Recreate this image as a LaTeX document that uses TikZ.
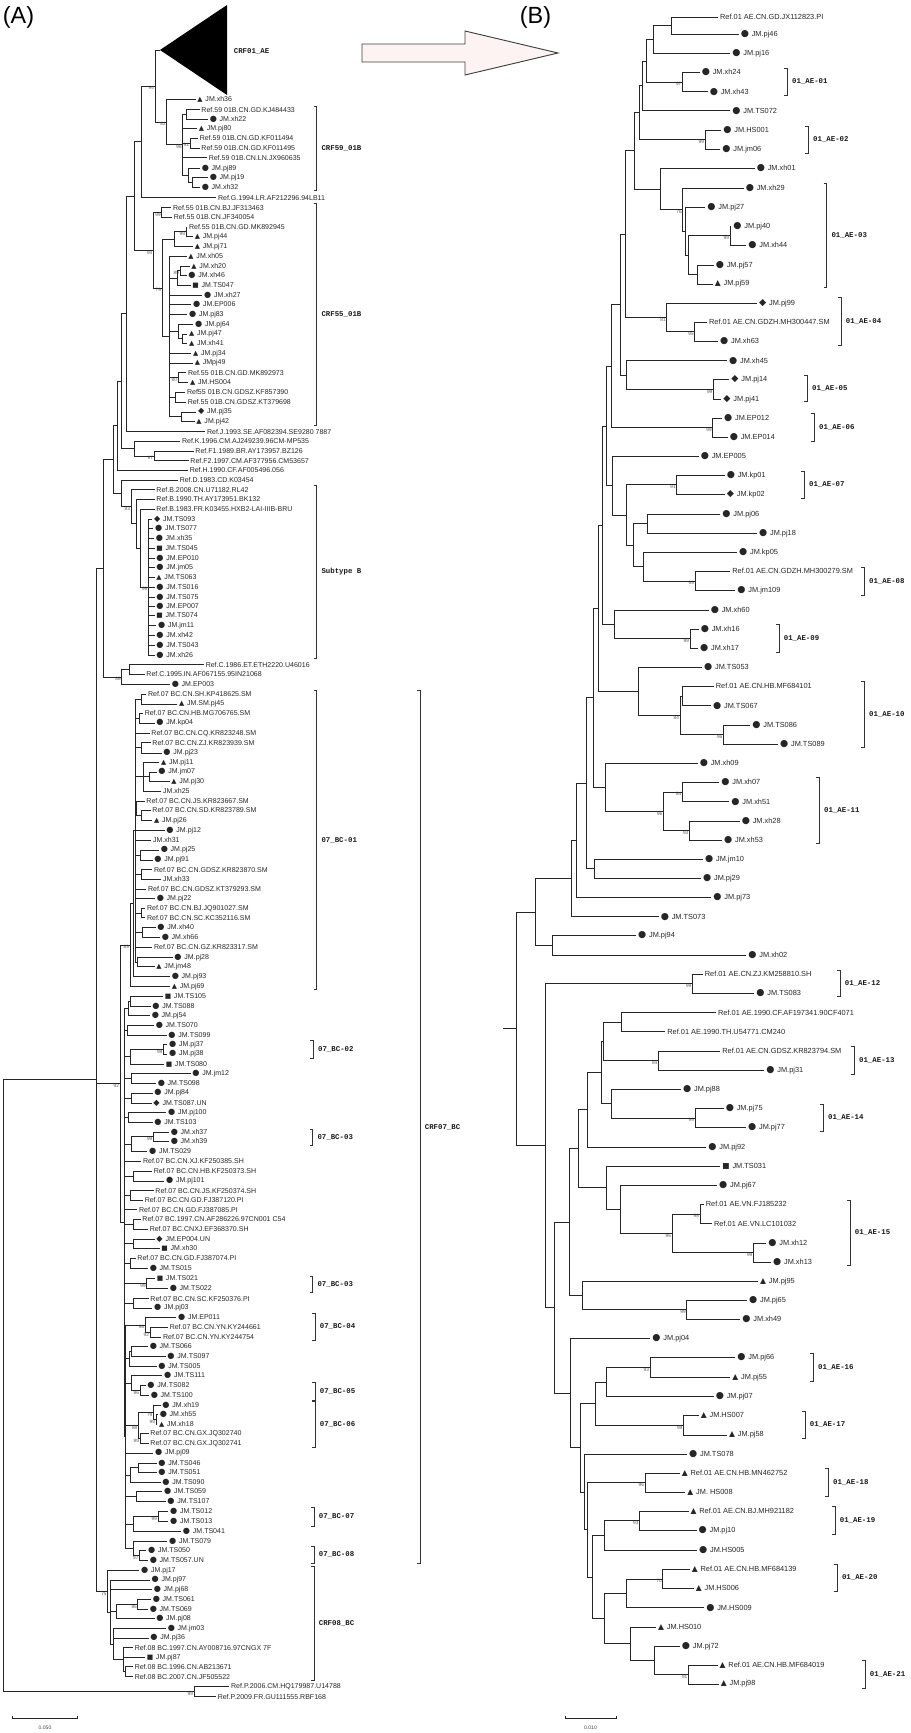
\documentclass[tikz,border=0pt]{standalone}
\usepackage{fontspec}
\setmainfont{Liberation Sans}
\newfontfamily\mkfont{DejaVu Sans}
\newfontfamily\cladefont{Liberation Mono}
\usetikzlibrary{calc}
\definecolor{arrowfill}{HTML}{FDF3F3}

% clade: [bootstrap]{name}{x}{children}
\newcommand\clade[4][]{%
  \foreach \ch [count=\chn] in {#4}{\ifnum\chn=1 \xdef\cfirst{\ch}\fi\xdef\clast{\ch}}%
  \coordinate (#2) at (perpendicular cs: horizontal line through={($(\cfirst)!0.5!(\clast)$)}, vertical line through={(#3,0)});%
  \foreach \ch in {#4}{\draw[br] (#2) |- (\ch);}%
  \if\relax\detokenize{#1}\relax\else\node[bs] (#2-bs) at (#2) {#1};\fi
}

\tikzset{
  br/.style={line width=0.65pt, draw=black!85},
  lfA/.style={anchor=west, inner xsep=1.3pt, inner ysep=0pt, text=black!85, font=\fontsize{6}{6}\selectfont},
  lfB/.style={anchor=west, inner xsep=1.6pt, inner ysep=0pt, text=black!85, font=\fontsize{6.3}{6.3}\selectfont},
  ci/.style={execute at begin node={{\mkfont\fontsize{\mkc}{\mkc}\selectfont ●}\hspace{2.4pt}}},
  di/.style={execute at begin node={{\mkfont\fontsize{\mkc}{\mkc}\selectfont ◆}\hspace{2.4pt}}},
  tr/.style={execute at begin node={{\mkfont\fontsize{\mkt}{\mkt}\selectfont ▲}\hspace{2.4pt}}},
  sq/.style={execute at begin node={{\mkfont\fontsize{\mkt}{\mkt}\selectfont ■}\hspace{2.4pt}}},
  no/.style={},
  bs/.style={anchor=north east, inner sep=0.3pt, xshift=-0.4pt, text=black!65, font=\fontsize{4}{4}\selectfont},
  clab/.style={anchor=west, inner sep=0.5pt, text=black!90, font=\cladefont\bfseries\fontsize{6.3}{6.3}\selectfont},
  brk/.style={line width=0.65pt, draw=black!80},
}

\begin{document}
\begin{tikzpicture}[x=0.3mm, y=-0.3mm]
  \useasboundingbox (0,0) rectangle (911,1733);

  % panel letters and arrow
  \node[font=\fontsize{20}{20}\selectfont] (lblA) at (18.5,17) {(A)};
  \node[font=\fontsize{20}{20}\selectfont] (lblB) at (535.5,17) {(B)};
  \draw[line width=0.8pt, draw=black!75, fill=arrowfill] (362,44) -- (465,44) -- (465,31) -- (558,53) -- (465,75) -- (465,62) -- (362,62) -- cycle;

  % (A) tips
  \def\mkc{7}\def\mkt{5.8}
  \foreach \nm/\x/\y/\mt/\tx in {
    A-xh36/195.7/99.3/tr/JM.xh36, A-KJ484433/199.7/109.7/no/Ref.59 01B.CN.GD.KJ484433,
    A-xh22/208/119/ci/JM.xh22, A-pj80/197/128.7/tr/JM.pj80,
    A-KF011494/198/138/no/Ref.59 01B.CN.GD.KF011494, A-KF011495/199.7/148/no/Ref.59 01B.CN.GD.KF011495,
    A-JX960635/207/157.7/no/Ref.59 01B.CN.LN.JX960635, A-pj89/200/168.3/ci/JM.pj89,
    A-pj19/208/177.3/ci/JM.pj19, A-xh32/200/187.7/ci/JM.xh32,
    A-G/216.3/197.7/no/Ref.G.1994.LR.AF212296.94LB11,
    A-JF313463/171.3/207.7/no/Ref.55 01B.CN.BJ.JF313463, A-JF340054/172/217.3/no/Ref.55 01B.CN.JF340054,
    A-MK892945/187.3/227/no/Ref.55 01B.CN.GD.MK892945, A-pj44/193/236.7/tr/JM.pj44,
    A-pj71/193/246.7/tr/JM.pj71, A-xh05/186.7/256.3/tr/JM.xh05, A-xh20/189.7/266/tr/JM.xh20,
    A-xh46/186.7/275.7/ci/JM.xh46, A-TS047/190.7/285.3/sq/JM.TS047, A-xh27/202.3/295/ci/JM.xh27,
    A-EP006/191.3/304.7/ci/JM.EP006, A-pj83/187.3/314.3/ci/JM.pj83, A-pj64/193.3/324.3/ci/JM.pj64,
    A-pj47/187.3/334/tr/JM.pj47, A-xh41/187.3/343.7/tr/JM.xh41, A-pj34/191.3/353.3/tr/JM.pj34,
    A-pj49/193/363/tr/JMpj49, A-MK892973/186.3/372.7/no/Ref.55 01B.CN.GD.MK892973,
    A-HS004/188.3/382.3/tr/JM.HS004, A-KF857390/185.3/392.3/no/Ref55 01B.CN.GDSZ.KF857390,
    A-KT379698/186/402/no/Ref.55 01B.CN.GDSZ.KT379698, A-pj35/196.3/412/di/JM.pj35,
    A-pj42/194.7/421.7/tr/JM.pj42, A-J/205.3/431.7/no/Ref.J.1993.SE.AF082394.SE9280 7887,
    A-K/180.3/441.3/no/Ref.K.1996.CM.AJ249239.96CM-MP535, A-F1/193.7/451.3/no/Ref.F1.1989.BR.AY173957.BZ126,
    A-F2/188.7/460.7/no/Ref.F2.1997.CM.AF377956.CM53657, A-H/188/470.3/no/Ref.H.1990.CF.AF005496.056,
    A-D/178/480/no/Ref.D.1983.CD.K03454, A-B1/154.7/489.7/no/Ref.B.2008.CN.U71182.RL42,
    A-B2/154.7/499.3/no/Ref.B.1990.TH.AY173951.BK132, A-B3/154.7/509/no/Ref.B.1983.FR.K03455.HXB2-LAI-IIIB-BRU,
    A-TS093/152.3/519/di/JM.TS093, A-TS077/153.3/528.7/ci/JM.TS077, A-xh35/154/538.3/ci/JM.xh35,
    A-TS045/154.7/548/sq/JM.TS045, A-EP010/154.7/558/ci/JM.EP010, A-jm05/154.7/567.7/ci/JM.jm05,
    A-TS063/154.7/577.7/tr/JM.TS063, A-TS016/154.7/587.3/ci/JM.TS016, A-TS075/154.7/597/ci/JM.TS075,
    A-EP007/154.7/606.7/ci/JM.EP007, A-TS074/154.7/615.7/sq/JM.TS074, A-jm11/156.3/625.3/ci/JM.jm11,
    A-xh42/154.7/635.3/ci/JM.xh42, A-TS043/154.7/645/ci/JM.TS043, A-xh26/154.7/655/ci/JM.xh26,
    A-C1/204/664.7/no/Ref.C.1986.ET.ETH2220.U46016, A-C2/144.7/674.3/no/Ref.C.1995.IN.AF067155.95IN21068,
    A-EP003/170/684.3/ci/JM.EP003,
    A-KP418625/146.3/694.3/no/Ref.07 BC.CN.SH.KP418625.SM, A-pj45/177.3/704/tr/JM.SM.pj45,
    A-MG706765/143/713.3/no/Ref.07 BC.CN.HB.MG706765.SM, A-kp04/154.7/723/ci/JM.kp04,
    A-KR823248/149.7/733.3/no/Ref.07 BC.CN.CQ.KR823248.SM, A-KR823939/150.7/742.7/no/Ref.07 BC.CN.ZJ.KR823939.SM,
    A-pj23/161.7/753/ci/JM.pj23, A-pj11/159.3/762.3/tr/JM.pj11, A-jm07/156.7/772/ci/JM.jm07,
    A-pj30/169.7/781.7/tr/JM.pj30, A-xh25/161.3/791.3/no/JM.xh25,
    A-KR823667/144.7/801/no/Ref.07 BC.CN.JS.KR823667.SM, A-KR823789/150.7/810.3/no/Ref.07 BC.CN.SD.KR823789.SM,
    A-pj26/152.3/820.7/tr/JM.pj26, A-pj12/164.7/830.3/ci/JM.pj12, A-xh31/151.3/840/no/JM.xh31,
    A-pj25/159/850/ci/JM.pj25, A-pj91/152.7/860/ci/JM.pj91,
    A-KR823870/152.3/869.7/no/Ref.07 BC.CN.GDSZ.KR823870.SM, A-xh33/161.3/879/no/JM.xh33,
    A-KT379293/146.3/889/no/Ref.07 BC.CN.GDSZ.KT379293.SM, A-pj22/155/898.7/ci/JM.pj22,
    A-JQ901027/145.3/908.3/no/Ref.07 BC.CN.BJ.JQ901027.SM, A-KC352116/145.3/917.7/no/Ref.07 BC.CN.SC.KC352116.SM,
    A-xh40/155.7/927.7/ci/JM.xh40, A-xh66/160/937.3/ci/JM.xh66,
    A-KR823317/152.3/947/no/Ref.07 BC.CN.GZ.KR823317.SM, A-pj28/172.7/957.3/ci/JM.pj28,
    A-jm48/154.7/966.7/tr/JM.jm48, A-pj93/170/976.7/ci/JM.pj93, A-pj69/170/986.3/tr/JM.pj69,
    A-TS105/163/996/sq/JM.TS105, A-TS088/150.7/1006/ci/JM.TS088, A-pj54/150/1015.3/ci/JM.pj54,
    A-TS070/154/1025.3/ci/JM.TS070, A-TS099/166.7/1035/ci/JM.TS099, A-pj37/167.3/1044.7/ci/JM.pj37,
    A-pj38/167.3/1054/ci/JM.pj38, A-TS080/164/1064/sq/JM.TS080, A-jm12/190.7/1073.7/ci/JM.jm12,
    A-TS098/156/1083.7/ci/JM.TS098, A-pj84/152.7/1093/ci/JM.pj84, A-TS087/151.7/1103/di/JM.TS087.UN,
    A-pj100/166.3/1112.7/ci/JM.pj100, A-TS103/152.7/1122/ci/JM.TS103, A-xh37/169/1132/ci/JM.xh37,
    A-xh39/169/1141.7/ci/JM.xh39, A-TS029/147.3/1151.7/ci/JM.TS029,
    A-KF250385/141.3/1161.3/no/Ref.07 BC.CN.XJ.KF250385.SH, A-KF250373/152/1171/no/Ref.07 BC.CN.HB.KF250373.SH,
    A-pj101/164.3/1181/ci/JM.pj101, A-KF250374/153.7/1190.7/no/Ref.07 BC.CN.JS.KF250374.SH,
    A-FJ387120/143/1200/no/Ref.07 BC.CN.GD.FJ387120.PI, A-FJ387085/137.3/1209.7/no/Ref.07 BC.CN.GD.FJ387085.PI,
    A-AF286226/140.7/1219.3/no/Ref.07 BC.1997.CN.AF286226.97CN001 C54, A-EF368370/148/1229/no/Ref.07 BC.CNXJ.EF368370.SH,
    A-EP004/154.7/1239/di/JM.EP004.UN, A-xh30/159.7/1248.7/sq/JM.xh30,
    A-FJ387074/135.7/1258.3/no/Ref.07 BC.CN.GD.FJ387074.PI, A-TS015/148/1268/ci/JM.TS015,
    A-TS021/155/1278/sq/JM.TS021, A-TS022/168/1288.3/ci/JM.TS022,
    A-KF250376/148.7/1298.7/no/Ref.07 BC.CN.SC.KF250376.PI, A-pj03/152.3/1308/ci/JM.pj03,
    A-EP011/176.3/1317.7/ci/JM.EP011, A-KY244661/168/1327.3/no/Ref.07 BC.CN.YN.KY244661,
    A-KY244754/161.3/1337/no/Ref.07 BC.CN.YN.KY244754, A-TS066/148/1346.7/ci/JM.TS066,
    A-TS097/165.7/1356.3/ci/JM.TS097, A-TS005/156.7/1366/ci/JM.TS005, A-TS111/162.3/1375.7/ci/JM.TS111,
    A-TS082/145.7/1385.3/ci/JM.TS082, A-TS100/149/1395/ci/JM.TS100, A-xh19/160.7/1405/ci/JM.xh19,
    A-xh55/158/1414.7/ci/JM.xh55, A-xh18/157.3/1424.3/tr/JM.xh18,
    A-JQ302740/148.7/1433.7/no/Ref.07 BC.CN.GX.JQ302740, A-JQ302741/148.7/1443.7/no/Ref.07 BC.CN.GX.JQ302741,
    A-pj09/153.3/1453/ci/JM.pj09, A-TS046/156.7/1463/ci/JM.TS046, A-TS051/156.7/1472.7/ci/JM.TS051,
    A-TS090/160.7/1482/ci/JM.TS090, A-TS059/162.3/1491.7/ci/JM.TS059, A-TS107/165.7/1501.3/ci/JM.TS107,
    A-TS012/168.4/1511.5/ci/JM.TS012, A-TS013/168.4/1521.7/ci/JM.TS013, A-TS041/181.2/1531.5/ci/JM.TS041,
    A-TS079/167.3/1541/ci/JM.TS079, A-TS050/146.3/1550.7/ci/JM.TS050, A-TS057/148/1560.5/ci/JM.TS057.UN,
    A-pj17/139.3/1570.5/ci/JM.pj17, A-pj97/149.8/1580/ci/JM.pj97, A-pj68/152/1589.5/ci/JM.pj68,
    A-TS061/151/1599.3/ci/JM.TS061, A-TS069/148/1609/ci/JM.TS069, A-pj08/154.5/1618.5/ci/JM.pj08,
    A-jm03/166/1628.3/ci/JM.jm03, A-pj36/148.7/1638/ci/JM.pj36,
    A-AY008716/133/1647.7/no/Ref.08 BC.1997.CN.AY008716.97CNGX 7F, A-pj87/145/1657.5/sq/JM.pj87,
    A-AB213671/133/1666.8/no/Ref.08 BC.1996.CN.AB213671, A-JF505522/133/1676.5/no/Ref.08 BC.2007.CN.JF505522,
    A-P1/229.4/1686.7/no/Ref.P.2006.CM.HQ179987.U14788, A-P2/216/1696.5/no/Ref.P.2009.FR.GU111555.RBF168}
    {\node[lfA,\mt] (\nm) at (\x,\y) {\tx};}

  % (B) tips
  \def\mkc{8}\def\mkt{6.6}
  \foreach \nm/\x/\y/\mt/\tx in {
    B-JX112823/718/17/no/Ref.01 AE.CN.GD.JX112823.PI, B-pj46/738.7/34.7/ci/JM.pj46,
    B-pj16/730.3/53.7/ci/JM.pj16, B-xh24/699.7/72.3/ci/JM.xh24, B-xh43/707.7/91.7/ci/JM.xh43,
    B-TS072/730.3/110.7/ci/JM.TS072, B-HS001/721.3/130/ci/JM.HS001, B-jm06/720.3/149.3/ci/JM.jm06,
    B-xh01/754.7/168.3/ci/JM.xh01, B-xh29/743.7/188/ci/JM.xh29, B-pj27/705.3/207.3/ci/JM.pj27,
    B-pj40/731.3/226.3/ci/JM.pj40, B-xh44/746.3/245.3/ci/JM.xh44, B-pj57/713.7/265/ci/JM.pj57,
    B-pj59/712.7/284/tr/JM.pj59, B-pj99/757/303/di/JM.pj99,
    B-MH300447/707/322/no/Ref.01 AE.CN.GDZH.MH300447.SM, B-xh63/718/341/ci/JM.xh63,
    B-xh45/727/360.7/ci/JM.xh45, B-pj14/729.3/379.7/di/JM.pj14, B-pj41/721.3/399/di/JM.pj41,
    B-EP012/722/418.3/ci/JM.EP012, B-EP014/727.7/437.3/ci/JM.EP014, B-EP005/698.7/456.3/ci/JM.EP005,
    B-kp01/724.7/475.3/ci/JM.kp01, B-kp02/724.7/494.3/di/JM.kp02, B-pj06/720.3/514/ci/JM.pj06,
    B-pj18/757/533/ci/JM.pj18, B-kp05/737/552.3/ci/JM.kp05,
    B-MH300279/730.3/571.3/no/Ref.01 AE.CN.GDZH.MH300279.SM, B-jm109/735.3/590.7/ci/JM.jm109,
    B-xh60/708.7/610/ci/JM.xh60, B-xh16/698.7/629/ci/JM.xh16, B-xh17/698/648/ci/JM.xh17,
    B-TS053/702/667.3/ci/JM.TS053, B-MF684101/713.7/686.3/no/Ref.01 AE.CN.HB.MF684101,
    B-TS067/711/705.7/ci/JM.TS067, B-TS086/750.3/725/ci/JM.TS086, B-TS089/778/744/ci/JM.TS089,
    B-xh09/697.7/763.3/ci/JM.xh09, B-xh07/719.3/782.5/ci/JM.xh07, B-xh51/729.3/801.7/ci/JM.xh51,
    B-xh28/739.7/821/ci/JM.xh28, B-xh53/722/840/ci/JM.xh53, B-jm10/703/859.3/ci/JM.jm10,
    B-pj29/701/878.3/ci/JM.pj29, B-pj73/711.3/897.3/ci/JM.pj73, B-TS073/658.7/916.7/ci/JM.TS073,
    B-pj94/636/935.7/ci/JM.pj94, B-xh02/746.3/955/ci/JM.xh02,
    B-KM258810/702.7/974.3/no/Ref.01 AE.CN.ZJ.KM258810.SH, B-TS083/754.3/993.3/ci/JM.TS083,
    B-AF197341/716/1012.7/no/Ref.01 AE.1990.CF.AF197341.90CF4071, B-U54771/665.3/1031.7/no/Ref.01 AE.1990.TH.U54771.CM240,
    B-KR823794/720.3/1051/no/Ref.01 AE.CN.GDSZ.KR823794.SM, B-pj31/764.3/1070/ci/JM.pj31,
    B-pj88/681/1089.3/ci/JM.pj88, B-pj75/723.7/1108.3/ci/JM.pj75, B-pj77/746/1127.7/ci/JM.pj77,
    B-pj92/706.3/1147/ci/JM.pj92, B-TS031/720.3/1166/sq/JM.TS031, B-pj67/717/1185.3/ci/JM.pj67,
    B-FJ185232/703.7/1204.3/no/Ref.01 AE.VN.FJ185232, B-LC101032/712/1223.7/no/Ref.01 AE.VN.LC101032,
    B-xh12/766.3/1243/ci/JM.xh12, B-xh13/771/1262/ci/JM.xh13, B-pj95/758/1281.3/tr/JM.pj95,
    B-pj65/747/1300.3/ci/JM.pj65, B-xh49/740.3/1319.3/ci/JM.xh49, B-pj04/650.3/1338.3/ci/JM.pj04,
    B-pj66/735.3/1357.7/ci/JM.pj66, B-pj55/730.3/1377.3/tr/JM.pj55, B-pj07/713.7/1396.3/ci/JM.pj07,
    B-HS007/698.7/1415.7/tr/JM.HS007, B-pj58/727/1435/tr/JM.pj58, B-TS078/687/1454/ci/JM.TS078,
    B-MN462752/679.7/1473/tr/Ref.01 AE.CN.HB.MN462752, B-HS008/685.3/1492/tr/JM. HS008,
    B-MH921182/688.5/1511.3/tr/Ref.01 AE.CN.BJ.MH921182, B-pj10/696.5/1530.3/ci/JM.pj10,
    B-HS005/697/1550/ci/JM.HS005, B-MF684139/689.7/1569.3/tr/Ref.01 AE.CN.HB.MF684139,
    B-HS006/693.7/1588.7/tr/JM.HS006, B-HS009/704.2/1607.7/ci/JM.HS009, B-HS010/656/1627/tr/JM.HS010,
    B-pj72/679.8/1646/ci/JM.pj72, B-MF684019/717.6/1665.3/tr/Ref.01 AE.CN.HB.MF684019,
    B-pj98/718.7/1684/tr/JM.pj98}
    {\node[lfB,\mt] (\nm) at (\x,\y) {\tx};}

  % (A) CRF01_AE collapsed, CRF59, CRF55
  \coordinate (A-ae) at (160,50);
  \fill[black] (A-ae) -- (227,5) -- (227,95) -- cycle;
  \node[clab] (lab-ae) at (233,51) {CRF01\_AE};
  \clade{a59a}{186.7}{A-KJ484433,A-xh22}
  \clade[91]{a59b}{190}{A-KF011494,A-KF011495}
  \clade{a59d}{192}{A-pj19,A-xh32}
  \clade{a59c}{188}{A-pj89,a59d}
  \clade[96]{a59core}{182.7}{a59a,A-pj80,a59b,A-JX960635,a59c}
  \clade[82]{a59}{166.7}{A-xh36,a59core}
  \clade[94]{q1}{155}{A-ae,a59}
  \clade{q2}{141}{q1,A-G}
  \clade[99]{a55bj}{161.7}{A-JF313463,A-JF340054}
  \clade[99]{a55gd}{186}{A-MK892945,A-pj44}
  \clade{a55c}{174}{a55gd,A-pj71}
  \clade[89]{a55d}{180}{A-xh20,A-xh46}
  \clade{a55e}{177}{a55d,A-TS047}
  \clade{a55f2}{182}{A-pj47,A-xh41}
  \clade{a55f}{178}{A-pj64,a55f2}
  \clade[80]{a55g}{178}{A-MK892973,A-HS004}
  \clade{a55i}{175}{A-KF857390,A-KT379698}
  \clade{a55h}{181}{A-pj35,A-pj42}
  \clade{a55core}{169}{A-xh05,a55e,A-xh27,A-EP006,A-pj83,a55f,A-pj34,A-pj49,a55g,a55i,a55h}
  \clade[79]{a55x}{162}{a55c,a55core}
  \clade[94]{a55}{153.3}{a55bj,a55x}
  \clade{q3}{134.7}{q2,a55}
  \clade{q4}{126}{q3,A-J}
  \clade[97]{aF}{154}{A-F1,A-F2}
  \clade{aKF}{134.3}{A-K,aF}
  \clade{q5}{121.7}{q4,aKF}
  \clade{q6}{117}{q5,A-H}
  % subtype B, D, C
  \clade[99]{aBjm}{148.3}{A-TS093,A-TS077,A-xh35,A-TS045,A-EP010,A-jm05,A-TS063,A-TS016,A-TS075,A-EP007,A-TS074,A-jm11,A-xh42,A-TS043,A-xh26}
  \clade{aB3}{140}{A-B3,aBjm}
  \clade{aB2}{136}{A-B2,aB3}
  \clade[83]{aB}{131}{A-B1,aB2}
  \clade{aDB}{121.7}{A-D,aB}
  \clade{q7}{113.3}{q6,aDB}
  \clade{aCp}{129.3}{A-C1,A-C2}
  \clade[86]{aC}{121.7}{aCp,A-EP003}
  \clade{q8}{103.3}{q7,aC}
  % CRF07_BC
  \clade{b1a}{141.7}{A-KP418625,A-pj45}
  \clade{b1b}{139.3}{A-MG706765,A-kp04}
  \clade{b1c}{141.7}{A-KR823939,A-pj23}
  \clade{b1d}{149.3}{A-jm07,A-pj30}
  \clade{b1e}{143.3}{A-pj11,b1d,A-xh25}
  \clade{b1f}{141.7}{A-KR823789,A-pj26}
  \clade{b1g}{136.7}{A-KR823667,b1f}
  \clade{b1h}{140}{A-pj25,A-pj91}
  \clade{b1i}{141.7}{A-KR823870,A-xh33}
  \clade{b1j}{141.7}{A-JQ901027,A-KC352116}
  \clade{b1k}{142.7}{A-xh40,A-xh66}
  \clade{b1l}{137.3}{A-pj28,A-jm48}
  \clade{b1core}{135.7}{b1a,b1b,A-KR823248,b1c,b1e,b1g,A-pj12,A-xh31,b1h,b1i,A-KT379293,A-pj22,b1j,b1k,A-KR823317,b1l}
  \clade{b1x}{133.3}{b1core,A-pj93}
  \clade[89]{b1}{130}{b1x,A-pj69}
  \clade{c1}{130}{A-TS105,A-TS088}
  \clade{c2}{128.3}{c1,A-pj54}
  \clade{c3}{127.3}{A-TS070,A-TS099}
  \clade[99]{c4}{163.3}{A-pj37,A-pj38}
  \clade{c5}{130}{c4,A-TS080}
  \clade{c6}{131.7}{A-jm12,A-TS098}
  \clade{c7}{131.7}{A-pj84,A-TS087}
  \clade{c8}{128.3}{A-pj100,A-TS103}
  \clade[99]{c9}{153.3}{A-xh37,A-xh39}
  \clade{c10}{131.7}{c9,A-TS029}
  \clade{c11}{133.3}{A-KF250373,A-pj101}
  \clade{c12}{130.7}{A-KF250374,A-FJ387120}
  \clade{c13}{133.3}{A-AF286226,A-EF368370}
  \clade{c14}{133.3}{A-EP004,A-xh30}
  \clade{c15}{130.7}{A-FJ387074,A-TS015}
  \clade[99]{c16}{146.7}{A-TS021,A-TS022}
  \clade{c17}{133.3}{A-KF250376,A-pj03}
  \clade[92]{c18}{150}{A-KY244661,A-KY244754}
  \clade[96]{c19}{145}{A-EP011,c18}
  \clade{c20}{131.7}{A-TS066,A-TS097}
  \clade{c21}{129.3}{c20,A-TS005}
  \clade[96]{c22}{140}{A-TS082,A-TS100}
  \clade{c23}{131.7}{A-TS111,c22}
  \clade[99]{c24b}{156}{A-xh55,A-xh18}
  \clade[79]{c24}{153.3}{A-xh19,c24b}
  \clade[99]{c25}{140}{A-JQ302740,A-JQ302741}
  \clade[88]{c26}{138.3}{c24,c25}
  \clade{c27}{138.3}{A-TS046,A-TS051}
  \clade{c28}{130}{c27,A-TS090}
  \clade{c29}{136}{A-TS059,A-TS107}
  \clade[99]{c30}{158}{A-TS012,A-TS013}
  \clade{c31}{133.7}{c30,A-TS041}
  \clade[97]{c32}{139.5}{A-TS050,A-TS057}
  \clade{c33}{133.7}{A-TS079,c32}
  \clade{c7deep}{125.7}{c19,c21,c23,c26,A-pj09,c28,c29,c31,c33}
  \clade{c7core}{124}{c2,c3,c5,c6,c7,c8,c10,A-KF250385,c11,c12,A-FJ387085,c13,c14,c15,c16,c17,c7deep}
  \clade[92]{c07}{120}{b1,c7core}
  % CRF08_BC
  \clade[95]{d1}{137.8}{A-TS061,A-TS069}
  \clade{d2}{116.3}{d1,A-pj08}
  \clade{d3}{125}{A-AB213671,A-JF505522}
  \clade{d4}{123.3}{A-AY008716,A-pj87,d3}
  \clade{d5}{113.4}{A-jm03,A-pj36,d4}
  \clade{d8x}{110.5}{A-pj97,A-pj68,d2,d5}
  \clade[75]{d08}{107.6}{A-pj17,d8x}
  % backbone and outgroup
  \clade{q10}{96.7}{q8,c07,d08}
  \clade[99]{aP}{194}{A-P1,A-P2}
  \clade{rootA}{3}{q10,aP}

  % (B) CRF01_AE tree
  \clade{rn1}{671.7}{B-JX112823,B-pj46}
  \clade{rn2}{653.3}{rn1,B-pj16}
  \clade[97]{rnxh}{682.3}{B-xh24,B-xh43}
  \clade{rn3}{646.7}{rn2,rnxh}
  \clade{rn4}{642.3}{rn3,B-TS072}
  \clade[99]{rnhs}{705}{B-HS001,B-jm06}
  \clade{rn5}{639.3}{rn4,rnhs}
  \clade[99]{rn11}{730}{B-pj40,B-xh44}
  \clade{rn12}{697}{B-pj57,B-pj59}
  \clade{rn10}{688.3}{rn11,rn12}
  \clade{rn9}{685}{B-pj27,rn10}
  \clade[76]{rn8}{682.7}{B-xh29,rn9}
  \clade{rn7}{660}{B-xh01,rn8}
  \clade{rn6}{634.3}{rn5,rn7}
  \clade[95]{rn15}{694.7}{B-MH300447,B-xh63}
  \clade[81]{rn14}{666.7}{B-pj99,rn15}
  \clade{rn13}{625.3}{rn6,rn14}
  \clade[99]{rn18}{713.3}{B-pj14,B-pj41}
  \clade{rn17}{626.7}{B-xh45,rn18}
  \clade{rn16}{620.3}{rn13,rn17}
  \clade[99]{rn20}{712.7}{B-EP012,B-EP014}
  \clade{rn21}{611.7}{rn16,rn20}
  \clade[91]{rkp}{676.7}{B-kp01,B-kp02}
  \clade{rp6}{647}{B-pj06,B-pj18}
  \clade[99]{rmh3}{695}{B-MH300279,B-jm109}
  \clade{rk5}{643.3}{B-kp05,rmh3}
  \clade{rk6}{633.3}{rp6,rk5}
  \clade{rn25}{626.7}{rkp,rk6}
  \clade{rn24}{612.7}{B-EP005,rn25}
  \clade{rn22}{606}{rn21,rn24}
  \clade[99]{rx16}{690}{B-xh16,B-xh17}
  \clade{rn26}{614.3}{B-xh60,rx16}
  \clade{rn23}{602.7}{rn22,rn26}
  \clade{rmf}{682.7}{B-MF684101,B-TS067}
  \clade[96]{rts86}{723.3}{B-TS086,B-TS089}
  \clade[84]{rmf2b}{680}{rmf,rts86}
  \clade{rn27}{638.3}{B-TS053,rmf2b}
  \clade{rn28}{598.3}{rn23,rn27}
  \clade[84]{rx7}{682.3}{B-xh07,B-xh51}
  \clade[93]{rx28}{689.3}{B-xh28,B-xh53}
  \clade[96]{rx11}{663.3}{rx7,rx28}
  \clade{rn30}{605}{B-xh09,rx11}
  \clade{rn29}{593.3}{rn28,rn30}
  \clade{rjm}{594}{B-jm10,B-pj29}
  \clade{rn31}{586}{rn29,rjm}
  \clade{ru3}{576.7}{rn31,B-pj73}
  \clade{ru1}{571.7}{ru3,B-TS073}
  \clade{ru2}{552.7}{B-pj94,B-xh02}
  \clade{rup}{535}{ru1,ru2}
  \clade[99]{rkm}{692.3}{B-KM258810,B-TS083}
  \clade{raf}{621.7}{B-AF197341,B-U54771}
  \clade[84]{rkr}{658.3}{B-KR823794,B-pj31}
  \clade{rb1}{603.3}{raf,rkr}
  \clade[99]{r75}{695}{B-pj75,B-pj77}
  \clade{rb2}{611}{B-pj88,r75}
  \clade{ra1}{601.7}{rb1,rb2}
  \clade{ra2}{587.3}{ra1,B-pj92}
  \clade[98]{rfj}{700}{B-FJ185232,B-LC101032}
  \clade[99]{rx12}{753.3}{B-xh12,B-xh13}
  \clade[96]{rnc}{672}{rfj,rx12}
  \clade{rnb}{620}{B-pj67,rnc}
  \clade{rnts}{606.7}{B-TS031,rnb}
  \clade{ra3}{578.3}{ra2,rnts}
  \clade[99]{r65}{686.7}{B-pj65,B-xh49}
  \clade{r95}{582.7}{B-pj95,r65}
  \clade{ra4}{569.3}{ra3,r95}
  \clade[93]{r66}{650}{B-pj66,B-pj55}
  \clade{r16}{606.7}{r66,B-pj07}
  \clade[99]{rhs7}{683.3}{B-HS007,B-pj58}
  \clade{rl6}{595.7}{r16,rhs7}
  \clade[96]{rmn}{645}{B-MN462752,B-HS008}
  \clade[93]{rmh}{639.5}{B-MH921182,B-pj10}
  \clade{r19}{604.7}{rmh,B-HS005}
  \clade[70]{rmf1}{662.8}{B-MF684139,B-HS006}
  \clade{r20}{626.7}{rmf1,B-HS009}
  \clade[91]{rmf3}{688.4}{B-MF684019,B-pj98}
  \clade{r72}{654}{B-pj72,rmf3}
  \clade{r10}{630.8}{B-HS010,r72}
  \clade{rl10}{604.7}{r20,r10}
  \clade{rl9}{591.9}{r19,rl10}
  \clade{rl8}{587.3}{rmn,rl9}
  \clade{rl7}{584}{B-TS078,rl8}
  \clade{rl5}{580}{rl6,rl7}
  \clade{rl4}{570}{B-pj04,rl5}
  \clade{rl2}{554.3}{ra4,rl4}
  \clade{rl0}{545}{rkm,rl2}
  \clade{rootB}{516}{rup,rl0}
  \path (rootB) ++(-12.7,0) coordinate (rstub);
  \draw[br] (rstub) -- (rootB);

  % clade brackets
  \foreach \bx/\ba/\bb/\bt [count=\k] in {
    316.7/106.7/190/CRF59\_01B, 316.7/203.3/425/CRF55\_01B, 316.7/485.7/658/Subtype B,
    316.7/690.7/989.3/07\_BC-01, 313.3/1040.7/1058/07\_BC-02, 312.7/1129/1145/07\_BC-03,
    312.7/1276/1292/07\_BC-03, 315/1313/1340/07\_BC-04, 315/1382/1400/07\_BC-05,
    315/1401/1447/07\_BC-06, 314/1507/1526/07\_BC-07, 314/1546/1563/07\_BC-08,
    314/1566.7/1680/CRF08\_BC, 420/690.7/1563.3/CRF07\_BC,
    787.3/68.3/95/01\_AE-01, 808.3/126/153.3/01\_AE-02, 826.7/183.3/287.3/01\_AE-03,
    841/297.7/345/01\_AE-04, 807.3/375/401.7/01\_AE-05, 814.3/413.3/441/01\_AE-06,
    804.3/471/498/01\_AE-07, 864.3/567/595/01\_AE-08, 779/624.7/652/01\_AE-09,
    864.3/681.7/747.7/01\_AE-10, 819.3/777/843.3/01\_AE-11, 840/970/996.7/01\_AE-12,
    854.3/1046/1074/01\_AE-13, 823.3/1104/1131.7/01\_AE-14, 850/1200/1265/01\_AE-15,
    813.3/1353/1381.7/01\_AE-16, 805/1411/1438.7/01\_AE-17, 828.3/1468/1496/01\_AE-18,
    835/1506/1534/01\_AE-19, 837.2/1564/1591.7/01\_AE-20, 865/1660.7/1688.3/01\_AE-21}
  {
    \draw[brk] (\bx-3,\ba) -- (\bx,\ba) -- (\bx,\bb) -- (\bx-3,\bb);
    \node[clab] (cl\k) at (\bx+4,{(\ba+\bb)/2}) {\bt};
  }

  % scale bars
  \draw[br] (12.8,1715.5) -- (12.8,1718) -- (77.3,1718) -- (77.3,1715.5);
  \node[font=\fontsize{4.3}{4.3}\selectfont, text=black!75] (sclA) at (45,1728) {0.050};
  \draw[br] (565,1715.5) -- (565,1718) -- (616,1718) -- (616,1715.5);
  \node[font=\fontsize{4.3}{4.3}\selectfont, text=black!75] (sclB) at (590.5,1728) {0.010};
\end{tikzpicture}
\end{document}
